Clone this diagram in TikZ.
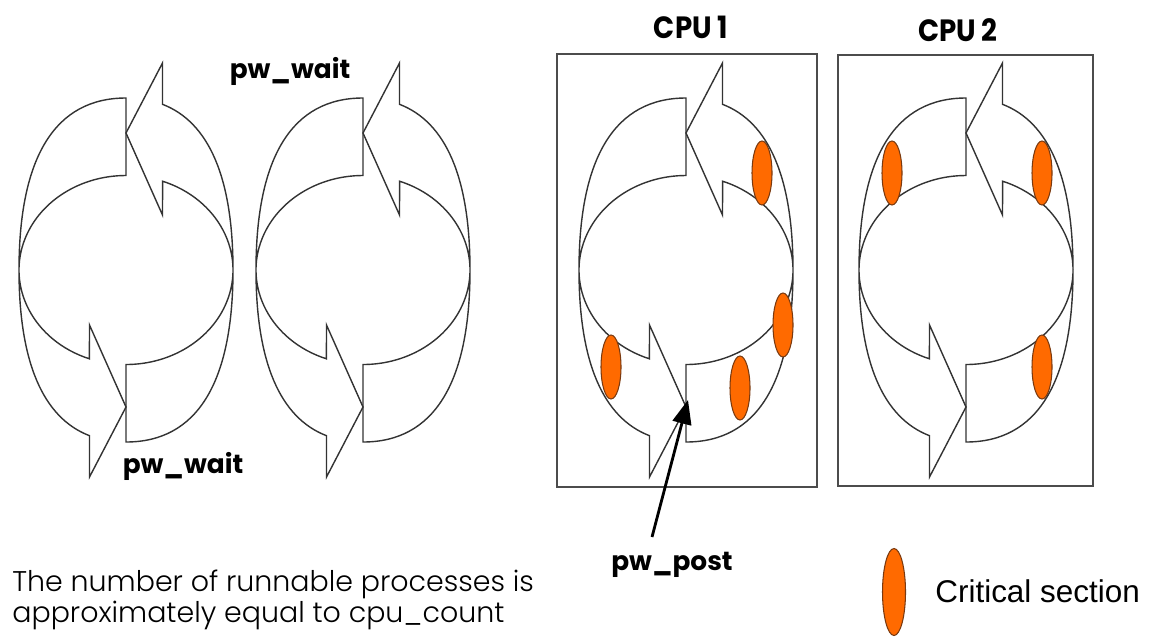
\documentclass[tikz,border=0pt]{standalone}
\usepackage{fontspec}
\setmainfont{Poppins}
\newfontfamily\legendfont{Liberation Sans}
\newfontfamily\notefont{Poppins Light}
\usetikzlibrary{arrows.meta,shapes.geometric}
\definecolor{critfill}{HTML}{FF6A00}
\definecolor{critline}{HTML}{7A3A10}

\begin{document}
\begin{tikzpicture}[x=0.02cm,y=-0.02cm,
  band/.style={line width=0.8pt,draw=black!80},
  cpubox/.style={line width=1pt,draw=black!70},
  crit/.style={ellipse,draw=critline,fill=critfill,line width=0.6pt,inner sep=0pt,
    minimum width=0.4cm,minimum height=1.28cm},
  callname/.style={font=\fontsize{15}{18}\selectfont\bfseries,inner sep=0pt},
  cpulabel/.style={font=\fontsize{17.5}{20}\selectfont\bfseries,xscale=0.9,inner sep=0pt},
  pointer/.style={line width=1.6pt,-{Triangle[length=0.48cm,width=0.38cm]}},
  waitloop/.pic={
    % left half, arrow at the bottom
    \draw[band] (0,-172) .. controls (-70.6,-172) and (-107,-113.5) .. (-107,0)
      .. controls (-107,91.9) and (-83.1,147.8) .. (-36.5,165.7)
      -- (-36.5,207) -- (0,137) -- (-36.5,55) -- (-36.6,88.8)
      arc[start angle=110,end angle=270,x radius=107,y radius=94.5] -- cycle;
    % right half, arrow at the top
    \draw[band] (0,172) .. controls (70.6,172) and (107,113.5) .. (107,0)
      .. controls (107,-91.9) and (83.1,-147.8) .. (36.5,-165.7)
      -- (36.5,-207) -- (0,-137) -- (36.5,-55) -- (36.6,-88.8)
      arc[start angle=-70,end angle=90,x radius=107,y radius=94.5] -- cycle;
  }]
  \useasboundingbox (0,0) rectangle (1159,637);

  % the two cpus
  \draw[cpubox] (557,54) rectangle (817,487);
  \draw[cpubox] (838,55) rectangle (1093,486);
  \node[cpulabel] (cpuA) at (691,27) {CPU 1};
  \node[cpulabel] (cpuB) at (958,30) {CPU 2};

  % waiting processes
  \pic (loopA) at (126,270) {waitloop};
  \pic (loopB) at (363,270) {waitloop};
  \pic (loopC) at (686,270) {waitloop};
  \pic (loopD) at (966,270) {waitloop};

  % critical sections
  \node[crit] (csA1) at (762,173) {};
  \node[crit] (csA2) at (783,325) {};
  \node[crit] (csA3) at (740,388) {};
  \node[crit] (csA4) at (611,367) {};
  \node[crit] (csB1) at (892,173) {};
  \node[crit] (csB2) at (1042,173) {};
  \node[crit] (csB3) at (1042,367) {};

  \node[callname] (waitA) at (290,71) {pw\_wait};
  \node[callname] (waitB) at (183,466) {pw\_wait};
  \node[callname] (post) at (672,565) {pw\_post};
  \coordinate (posttail) at (652,537);
  \coordinate (posttip) at (688,400);
  \draw[pointer] (posttail) -- (posttip);

  % legend and note
  \node[crit,minimum width=0.46cm,minimum height=1.74cm] (legendmark) at (894,592) {};
  \node[font=\legendfont\fontsize{17.9}{21}\selectfont,anchor=west,inner sep=0pt] (legendtext) at (935,591) {Critical section};
  \node[font=\notefont\fontsize{16.2}{17.8}\selectfont,anchor=west,align=left,inner sep=0pt] (note) at (12,600)
    {The number of runnable processes is\\approximately equal to cpu\_count};
\end{tikzpicture}
\end{document}
